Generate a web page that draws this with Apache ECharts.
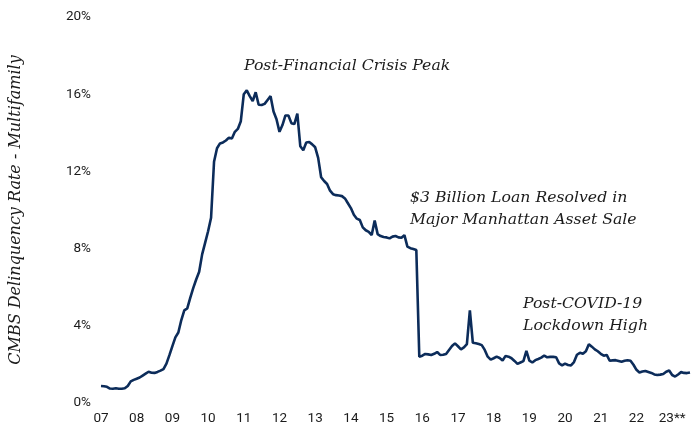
<!DOCTYPE html>
<html>
<head>
<meta charset="utf-8">
<script src="https://cdn.jsdelivr.net/npm/echarts@6/dist/echarts.min.js"></script>
<style>
  html, body { margin: 0; padding: 0; background: #fff; }
  #chart { width: 691px; height: 427px; }
</style>
</head>
<body>
<div id="chart"></div>
<script>
// monthly CMBS multifamily delinquency rate (%), Jan of each year onward
const rate2007 = [0.88, 0.87, 0.84, 0.75, 0.74, 0.76, 0.74, 0.74, 0.76, 0.88, 1.12, 1.20]
const rate2008 = [1.26, 1.32, 1.42, 1.52, 1.62, 1.57, 1.56, 1.61, 1.68, 1.76, 2.04, 2.48]
const rate2009 = [2.95, 3.40, 3.65, 4.30, 4.80, 4.90, 5.45, 5.95, 6.40, 6.80, 7.70, 8.30]
const rate2010 = [8.90, 9.60, 12.50, 13.20, 13.45, 13.50, 13.60, 13.75, 13.70, 14.05, 14.20, 14.60]
const rate2011 = [16.00, 16.20, 15.90, 15.65, 16.10, 15.45, 15.44, 15.50, 15.70, 15.90, 15.10, 14.70]
const rate2012 = [14.05, 14.40, 14.90, 14.90, 14.50, 14.45, 15.00, 13.30, 13.10, 13.50, 13.52, 13.40]
const rate2013 = [13.25, 12.70, 11.70, 11.50, 11.35, 11.00, 10.82, 10.77, 10.75, 10.72, 10.60, 10.35]
const rate2014 = [10.10, 9.75, 9.55, 9.48, 9.10, 8.95, 8.87, 8.70, 9.45, 8.75, 8.65, 8.60]
const rate2015 = [8.58, 8.53, 8.62, 8.65, 8.58, 8.56, 8.70, 8.10, 8.02, 7.98, 7.93, 2.40]
const rate2016 = [2.45, 2.54, 2.52, 2.49, 2.55, 2.64, 2.49, 2.50, 2.54, 2.75, 2.95, 3.09]
const rate2017 = [2.94, 2.78, 2.88, 3.05, 4.80, 3.12, 3.10, 3.06, 3.00, 2.75, 2.40, 2.25]
const rate2018 = [2.32, 2.40, 2.33, 2.20, 2.44, 2.40, 2.32, 2.18, 2.03, 2.10, 2.17, 2.70]
const rate2019 = [2.20, 2.10, 2.22, 2.28, 2.35, 2.46, 2.37, 2.39, 2.39, 2.37, 2.05, 1.95]
const rate2020 = [2.04, 1.97, 1.95, 2.12, 2.50, 2.60, 2.55, 2.68, 3.05, 2.92, 2.78, 2.68]
const rate2021 = [2.55, 2.45, 2.49, 2.19, 2.21, 2.22, 2.18, 2.14, 2.19, 2.22, 2.19, 1.98]
const rate2022 = [1.72, 1.58, 1.63, 1.66, 1.61, 1.56, 1.48, 1.45, 1.47, 1.50, 1.62, 1.68]
const rate2023 = [1.45, 1.37, 1.48, 1.60, 1.56, 1.55, 1.58]

const yearLabels = ['07', '08', '09', '10', '11', '12', '13', '14', '15', '16', '17', '18', '19', '20', '21', '22', '23**']

const rates = [].concat(rate2007, rate2008, rate2009, rate2010, rate2011, rate2012, rate2013,
  rate2014, rate2015, rate2016, rate2017, rate2018, rate2019, rate2020, rate2021, rate2022, rate2023)

// one category per month, label only on January
const months = rates.map((_, i) => (i % 12 === 0 ? yearLabels[i / 12] : ''))

const labelFont = 'Roboto, "Liberation Sans", sans-serif'
const noteFont = '"DejaVu Serif", "Liberation Serif", serif'
const ink = '#1b1b1b'

const chart = echarts.init(document.getElementById('chart'))

const noteStyle = {
  fill: ink,
  font: 'italic 15.7px ' + noteFont,
  lineHeight: 22
}

chart.setOption({
  animation: false,
  grid: { left: 101, right: 1, top: 17, bottom: 24 },
  xAxis: {
    type: 'category',
    data: months,
    boundaryGap: false,
    axisLine: { show: false },
    axisTick: { show: false },
    axisLabel: {
      interval: 11,
      margin: 9,
      color: ink,
      fontFamily: labelFont,
      fontSize: 13.5
    }
  },
  yAxis: {
    type: 'value',
    min: 0,
    max: 20,
    interval: 4,
    splitLine: { show: false },
    axisLine: { show: false },
    axisTick: { show: false },
    axisLabel: {
      margin: 10,
      color: ink,
      fontFamily: labelFont,
      fontSize: 13.5,
      formatter: '{value}%'
    },
    name: 'CMBS Delinquency Rate - Multifamily',
    nameLocation: 'middle',
    nameRotate: 90,
    nameGap: 77,
    nameTextStyle: {
      color: ink,
      fontFamily: noteFont,
      fontStyle: 'italic',
      fontSize: 16
    }
  },
  series: [
    {
      type: 'line',
      data: rates,
      symbol: 'none',
      lineStyle: { color: '#0c2c5a', width: 2.6 },
      itemStyle: { color: '#0c2c5a' }
    }
  ],
  graphic: [
    { type: 'text', left: 244, top: 55, style: Object.assign({ text: 'Post-Financial Crisis Peak' }, noteStyle) },
    { type: 'text', left: 410, top: 187, style: Object.assign({ text: '$3 Billion Loan Resolved in\nMajor Manhattan Asset Sale' }, noteStyle) },
    { type: 'text', left: 523, top: 293, style: Object.assign({ text: 'Post-COVID-19\nLockdown High' }, noteStyle) }
  ]
})
</script>
</body>
</html>
